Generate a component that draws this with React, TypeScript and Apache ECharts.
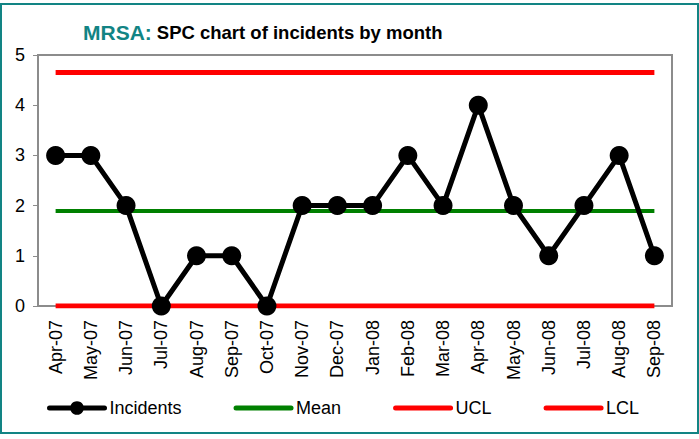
import React, { useEffect, useRef } from "react";
import * as echarts from "echarts";

const categories = ["Apr-07","May-07","Jun-07","Jul-07","Aug-07","Sep-07","Oct-07","Nov-07","Dec-07","Jan-08","Feb-08","Mar-08","Apr-08","May-08","Jun-08","Jul-08","Aug-08","Sep-08"];
const incidents = [3,3,2,0,1,1,0,2,2,2,3,2,4,2,1,2,3,1];
const meanValue = 1.89;
const uclValue = 4.65;
const lclValue = 0;
const yTicks = [0,1,2,3,4,5];

export default function App() {
  const ref = useRef<HTMLDivElement>(null);
  useEffect(() => {
    const chart = echarts.init(ref.current!, null, { renderer: "svg" });
    const font = "'Liberation Sans', Arial, sans-serif";
    const legendLine = (color: string) => ({ color, width: 5, cap: "round" });
    chart.setOption({
      animation: false,
      backgroundColor: "#fff",
      textStyle: { fontFamily: font },
      title: {
        left: 83,
        top: 22,
        padding: 0,
        text: "{a|MRSA:} {b|SPC chart of incidents by month}",
        textStyle: {
          rich: {
            a: { color: "#128484", fontSize: 21, fontWeight: "bold", fontFamily: font },
            b: { color: "#000", fontSize: 18.5, fontWeight: "bold", fontFamily: font },
          },
        },
      },
      graphic: [
        {
          type: "rect",
          shape: { x: 1, y: 4, width: 697, height: 429 },
          style: { fill: "none", stroke: "#128484", lineWidth: 2 },
          silent: true,
        },
      ],
      grid: {
        left: 38, right: 27, top: 55, bottom: 133,
        show: true, borderColor: "#8c8c8c", borderWidth: 2, backgroundColor: "transparent",
      },
      legend: {
        left: 47,
        top: 399,
        padding: 0,
        itemGap: 52,
        itemWidth: 55,
        itemHeight: 17,
        textStyle: { color: "#000", fontSize: 18, fontFamily: font },
        data: [
          { name: "Incidents", lineStyle: legendLine("#000") },
          { name: "Mean", itemStyle: { opacity: 0 }, lineStyle: legendLine("#008000") },
          { name: "UCL", itemStyle: { opacity: 0 }, lineStyle: legendLine("#ff0000") },
          { name: "LCL", itemStyle: { opacity: 0 }, lineStyle: legendLine("#ff0000") },
        ],
      },
      xAxis: {
        type: "category",
        data: categories,
        boundaryGap: true,
        axisLine: { show: false },
        axisTick: { show: false },
        axisLabel: { rotate: 90, color: "#000", fontSize: 18, margin: 14, fontFamily: font, interval: 0 },
      },
      yAxis: {
        type: "value",
        min: 0,
        max: 5,
        interval: 1,
        splitLine: { show: false },
        axisLine: { show: true, lineStyle: { color: "#8c8c8c", width: 2 } },
        axisTick: { show: true, length: 5, lineStyle: { color: "#8c8c8c" } },
        axisLabel: { color: "#000", fontSize: 18, margin: 13, fontFamily: font,
          formatter: (v: number) => (yTicks.includes(v) ? String(v) : "") },
      },
      series: [
        {
          name: "Incidents", type: "line", data: incidents, z: 10,
          symbol: "circle", symbolSize: 19,
          lineStyle: { color: "#000", width: 5 },
          itemStyle: { color: "#000" },
        },
        {
          name: "Mean", type: "line", data: categories.map(() => meanValue), z: 3,
          symbol: "none", lineStyle: { color: "#008000", width: 4 }, itemStyle: { color: "#008000" },
        },
        {
          name: "UCL", type: "line", data: categories.map(() => uclValue), z: 3,
          symbol: "none", lineStyle: { color: "#ff0000", width: 5 }, itemStyle: { color: "#ff0000" },
        },
        {
          name: "LCL", type: "line", data: categories.map(() => lclValue), z: 3,
          symbol: "none", lineStyle: { color: "#ff0000", width: 5 }, itemStyle: { color: "#ff0000" },
        },
      ],
    });
    return () => chart.dispose();
  }, []);
  return <div ref={ref} style={{ position: "fixed", left: 0, top: 0, width: 699, height: 439 }} />;
}
